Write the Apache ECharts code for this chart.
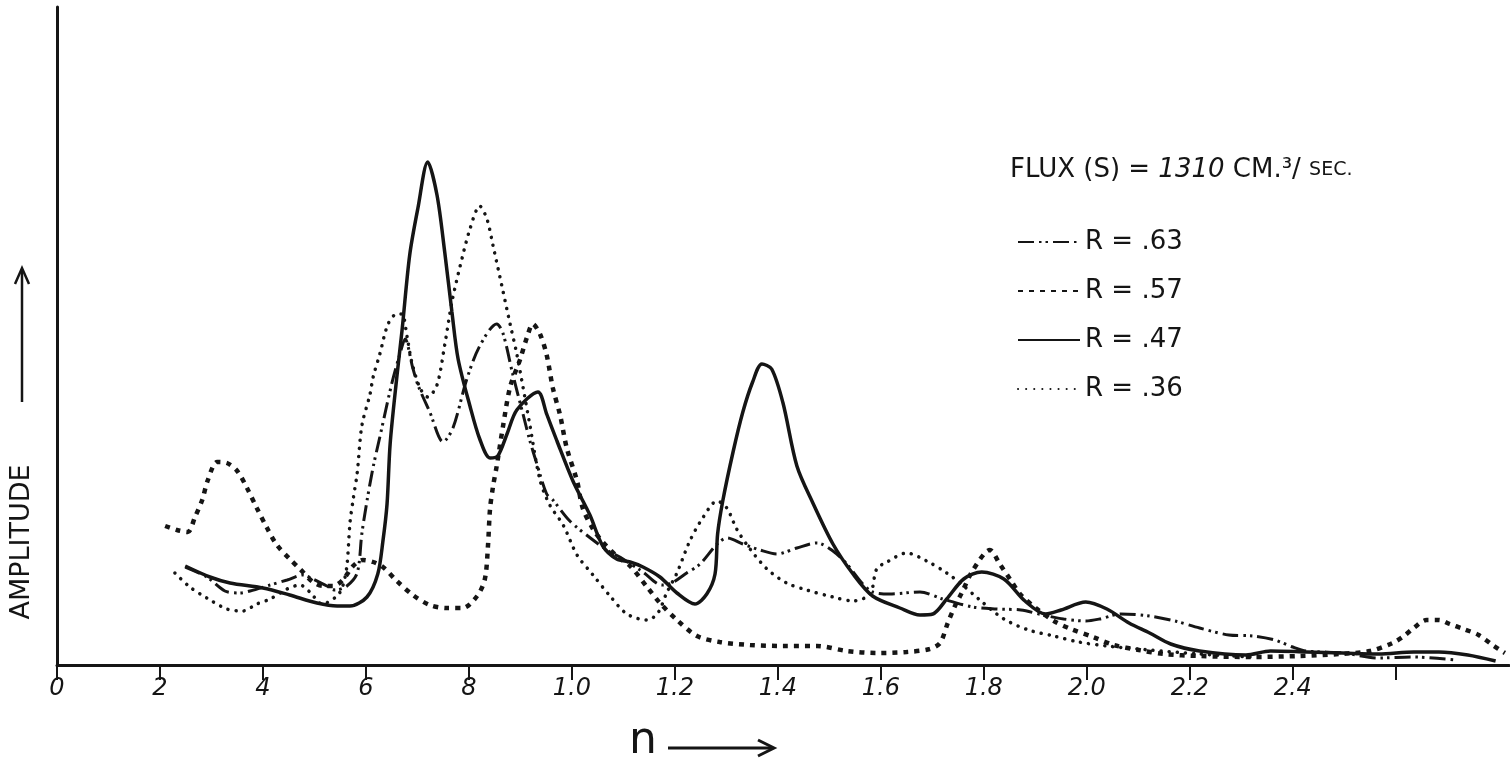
<!DOCTYPE html>
<html>
<head>
<meta charset="utf-8">
<script src="https://cdn.jsdelivr.net/npm/echarts@6/dist/echarts.min.js"></script>
<style>
  html, body { margin: 0; padding: 0; background: #fff; }
  #chart { width: 1510px; height: 775px; }
</style>
</head>
<body>
<div id="chart"></div>
<script>
// [n, amplitude] pairs (amplitude in arbitrary units)
const r63 = [
  [0.249, 98], [0.291, 88], [0.326, 74], [0.355, 72], [0.375, 74], [0.414, 80], [0.447, 85],
  [0.478, 90], [0.497, 86], [0.524, 79], [0.540, 75], [0.563, 79], [0.583, 92], [0.592, 131],
  [0.602, 164], [0.614, 198], [0.627, 228], [0.650, 281], [0.666, 311], [0.676, 326],
  [0.691, 297], [0.701, 280], [0.724, 253], [0.750, 223], [0.769, 237], [0.796, 286],
  [0.821, 319], [0.854, 341], [0.866, 332], [0.885, 291], [0.905, 251], [0.918, 225],
  [0.932, 201], [0.951, 171], [0.963, 165], [0.996, 144], [1.041, 125], [1.074, 113],
  [1.093, 108], [1.138, 93], [1.175, 80], [1.194, 82], [1.223, 92], [1.249, 101],
  [1.282, 121], [1.301, 127], [1.332, 121], [1.365, 115], [1.398, 111], [1.437, 117],
  [1.476, 122], [1.507, 114], [1.534, 101], [1.565, 81], [1.584, 73], [1.617, 71],
  [1.676, 73], [1.720, 66], [1.779, 58], [1.825, 56], [1.872, 55], [1.915, 50], [1.955, 46],
  [1.998, 44], [2.025, 46], [2.066, 51], [2.122, 49], [2.171, 44], [2.219, 37], [2.276, 30],
  [2.324, 29], [2.365, 25], [2.400, 18], [2.427, 14], [2.497, 12], [2.567, 7], [2.635, 8],
  [2.718, 5]
];
const r57 = [
  [0.210, 139], [0.233, 135], [0.254, 133], [0.268, 148], [0.282, 165], [0.293, 185],
  [0.311, 203], [0.330, 202], [0.350, 194], [0.369, 177], [0.388, 157], [0.408, 137],
  [0.427, 120], [0.452, 106], [0.472, 96], [0.497, 83], [0.517, 79], [0.536, 79], [0.555, 85],
  [0.575, 99], [0.594, 105], [0.614, 103], [0.633, 98], [0.660, 84], [0.691, 70], [0.724, 60],
  [0.757, 57], [0.788, 57], [0.816, 69], [0.831, 86], [0.837, 119], [0.841, 156],
  [0.847, 179], [0.854, 199], [0.866, 238], [0.880, 278], [0.899, 305], [0.913, 328],
  [0.924, 341], [0.938, 331], [0.951, 310], [0.963, 277], [0.977, 250], [0.990, 217],
  [1.010, 184], [1.021, 157], [1.041, 136], [1.060, 123], [1.087, 109], [1.113, 99],
  [1.146, 78], [1.171, 62], [1.204, 45], [1.243, 29], [1.287, 23], [1.346, 20], [1.410, 19],
  [1.476, 19], [1.534, 14], [1.592, 12], [1.650, 13], [1.695, 16], [1.715, 22], [1.730, 42],
  [1.744, 59], [1.757, 72], [1.779, 95], [1.812, 115], [1.831, 101], [1.852, 85],
  [1.872, 70], [1.901, 57], [1.936, 44], [1.969, 36], [2.012, 28], [2.052, 20], [2.101, 15],
  [2.150, 11], [2.219, 9], [2.317, 8], [2.414, 9], [2.491, 11], [2.550, 14], [2.594, 22],
  [2.616, 29], [2.635, 37], [2.660, 45], [2.684, 45], [2.705, 41], [2.732, 36], [2.761, 30],
  [2.788, 20], [2.812, 12]
];
const r47 = [
  [0.249, 99], [0.297, 88], [0.336, 82], [0.400, 77], [0.452, 70], [0.505, 62], [0.544, 59],
  [0.569, 59], [0.602, 68], [0.623, 91], [0.633, 124], [0.641, 161], [0.647, 221],
  [0.660, 288], [0.670, 334], [0.685, 410], [0.701, 457], [0.720, 503], [0.738, 470],
  [0.753, 413], [0.767, 353], [0.779, 306], [0.802, 259], [0.821, 226], [0.841, 207],
  [0.856, 209], [0.874, 231], [0.893, 255], [0.934, 273], [0.951, 251], [0.971, 224],
  [1.002, 184], [1.035, 150], [1.060, 119], [1.087, 106], [1.113, 103], [1.138, 98],
  [1.171, 88], [1.204, 72], [1.239, 61], [1.262, 71], [1.278, 91], [1.283, 131],
  [1.293, 164], [1.313, 213], [1.332, 253], [1.351, 283], [1.369, 301], [1.388, 296],
  [1.410, 262], [1.437, 199], [1.468, 162], [1.507, 121], [1.546, 91], [1.584, 69],
  [1.637, 57], [1.676, 50], [1.701, 51], [1.728, 66], [1.761, 86], [1.796, 93], [1.839, 86],
  [1.880, 64], [1.920, 51], [1.950, 55], [1.998, 63], [2.039, 56], [2.082, 42], [2.122, 32],
  [2.163, 21], [2.219, 14], [2.309, 10], [2.357, 14], [2.427, 13], [2.497, 12], [2.567, 11],
  [2.635, 13], [2.684, 13], [2.740, 10], [2.794, 4]
];
const r36 = [
  [0.229, 92], [0.258, 78], [0.291, 67], [0.330, 56], [0.361, 54], [0.388, 61], [0.414, 66],
  [0.447, 76], [0.472, 80], [0.491, 73], [0.515, 61], [0.544, 69], [0.555, 79], [0.563, 99],
  [0.569, 142], [0.575, 165], [0.583, 192], [0.592, 239], [0.608, 271], [0.614, 288],
  [0.627, 311], [0.643, 341], [0.660, 351], [0.670, 351], [0.680, 328], [0.689, 303],
  [0.705, 277], [0.720, 268], [0.738, 280], [0.753, 320], [0.767, 363], [0.783, 399],
  [0.802, 436], [0.821, 459], [0.835, 446], [0.847, 419], [0.864, 379], [0.880, 341],
  [0.893, 311], [0.905, 278], [0.918, 241], [0.938, 185], [0.957, 160], [0.983, 140],
  [1.010, 110], [1.041, 90], [1.074, 69], [1.107, 51], [1.146, 45], [1.167, 52], [1.184, 72],
  [1.204, 92], [1.229, 124], [1.254, 147], [1.282, 164], [1.301, 157], [1.320, 136],
  [1.346, 116], [1.379, 96], [1.417, 82], [1.456, 75], [1.507, 68], [1.546, 64], [1.579, 71],
  [1.592, 96], [1.612, 103], [1.650, 112], [1.689, 104], [1.728, 92], [1.761, 79],
  [1.790, 66], [1.839, 46], [1.887, 35], [1.936, 29], [1.984, 23], [2.039, 19], [2.122, 15],
  [2.219, 11], [2.317, 8]
];

const seriesNames = ['R = .63', 'R = .57', 'R = .47', 'R = .36'];
const tickValues = [0, 0.2, 0.4, 0.6, 0.8, 1.0, 1.2, 1.4, 1.6, 1.8, 2.0, 2.2, 2.4, 2.6];
const tickLabels = ['0', '2', '4', '6', '8', '1.0', '1.2', '1.4', '1.6', '1.8', '2.0', '2.2', '2.4', ''];

const ink = '#151515';
const handFont = '"DejaVu Sans", "Liberation Sans", sans-serif';

const chart = echarts.init(document.getElementById('chart'));

const lineStyles = [
  { color: ink, width: 3, type: [16, 5, 2.5, 4, 2.5, 5] },
  { color: ink, width: 4.5, type: [5, 6] },
  { color: ink, width: 3.5, type: 'solid' },
  { color: ink, width: 3.5, type: [0.1, 8], cap: 'round' }
];

const option = {
  animation: false,
  backgroundColor: '#fff',
  title: {
    text: 'FLUX (S) = {i|1310} CM.³/ {s|SEC.}',
    left: 1005,
    top: 152,
    textStyle: {
      color: ink,
      fontFamily: handFont,
      fontWeight: 'normal',
      fontSize: 26,
      rich: {
        i: { fontFamily: handFont, fontStyle: 'italic', fontSize: 26, color: ink },
        s: { fontFamily: handFont, fontSize: 19, color: ink }
      }
    }
  },
  legend: {
    orient: 'vertical',
    left: 1012,
    top: 224,
    itemWidth: 62,
    itemHeight: 14,
    itemGap: 23,
    data: seriesNames,
    itemStyle: { opacity: 0 },
    textStyle: { color: ink, fontFamily: handFont, fontSize: 26 }
  },
  grid: { left: 57, right: 1, top: 7, bottom: 110 },
  xAxis: {
    type: 'value',
    min: 0,
    max: 2.82,
    interval: 0.2,
    splitLine: { show: false },
    axisLine: { onZero: false, lineStyle: { color: ink, width: 3 } },
    axisTick: {
      show: true,
      length: 15,
      customValues: tickValues,
      lineStyle: { color: ink, width: 2 }
    },
    axisLabel: {
      customValues: tickValues,
      margin: 12,
      color: ink,
      fontFamily: handFont,
      fontStyle: 'italic',
      fontSize: 24,
      formatter: function (v) {
        const i = tickValues.indexOf(Math.round(v * 10) / 10);
        return i >= 0 ? tickLabels[i] : '';
      }
    }
  },
  yAxis: {
    type: 'value',
    min: 0,
    max: 658,
    splitLine: { show: false },
    axisLine: { show: true, lineStyle: { color: ink, width: 3 } },
    axisTick: { show: false },
    axisLabel: { show: false }
  },
  series: [r63, r57, r47, r36].map(function (data, k) {
    return {
      name: seriesNames[k],
      type: 'line',
      data: data,
      smooth: 0.3,
      symbol: 'none',
      itemStyle: { color: ink },
      lineStyle: lineStyles[k]
    };
  }),
  graphic: [
    {
      type: 'text',
      x: 22,
      y: 542,
      rotation: Math.PI / 2,
      style: {
        text: 'AMPLITUDE',
        font: '27px ' + handFont,
        fill: ink,
        textAlign: 'center',
        textVerticalAlign: 'middle',
        align: 'center',
        verticalAlign: 'middle'
      }
    },
    {
      type: 'line',
      shape: { x1: 22, y1: 402, x2: 22, y2: 270 },
      style: { stroke: ink, lineWidth: 2.5 }
    },
    {
      type: 'polyline',
      shape: { points: [[15, 284], [22, 268], [29, 284]] },
      style: { stroke: ink, lineWidth: 2.5, fill: null }
    },
    {
      type: 'text',
      x: 643,
      y: 742,
      style: {
        text: 'n',
        font: '44px ' + handFont,
        fill: ink,
        textAlign: 'center',
        textVerticalAlign: 'middle',
        align: 'center',
        verticalAlign: 'middle'
      }
    },
    {
      type: 'line',
      shape: { x1: 668, y1: 748, x2: 772, y2: 748 },
      style: { stroke: ink, lineWidth: 3 }
    },
    {
      type: 'polyline',
      shape: { points: [[758, 740], [774, 748], [758, 756]] },
      style: { stroke: ink, lineWidth: 3, fill: null }
    }
  ]
};

chart.setOption(option);
</script>
</body>
</html>
